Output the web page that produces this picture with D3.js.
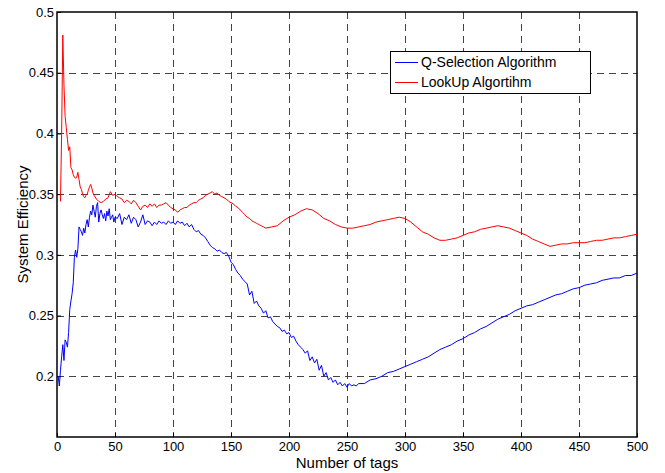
<!DOCTYPE html>
<html>
<head>
<meta charset="utf-8">
<script src="https://cdnjs.cloudflare.com/ajax/libs/d3/7.8.5/d3.min.js"></script>
<style>
  body { margin: 0; background: #fff; }
  text { font-family: Arial, "Liberation Sans", sans-serif; }
</style>
</head>
<body>
<div id="chart"></div>
<script>
// tick values
var xTicks = [0, 50, 100, 150, 200, 250, 300, 350, 400, 450, 500];
var yTicks = [0.2, 0.25, 0.3, 0.35, 0.4, 0.45, 0.5];

// Q-Selection Algorithm (blue)
var qTags = [1,2,3,4,5,6,7,8,9,10,11,12,13,14,15,16,17,18,19,20,21,22,23,24,25,26,27,28,29,30,
  31,32,33,34,35,36,37,38,39,40,41,42,43,44,45,46,47,48,49,50,
  52,54,56,58,60,62,64,66,68,70,72,74,76,78,80,82,84,86,88,90,92,94,96,98,100,
  102,104,106,108,110,112,114,116,118,120,122,124,126,128,130,132,134,136,138,140,
  142,144,146,148,150,152,154,156,158,160,162,164,166,168,170,172,174,176,178,180,
  182,184,186,188,190,192,194,196,198,200,202,204,206,208,210,212,214,216,218,220,
  222,224,226,228,230,232,234,236,238,240,242,244,246,248,250,252,254,256,258,260,
  265,270,275,280,285,290,295,300,305,310,315,320,325,330,335,340,345,350,355,360,
  365,370,375,380,385,390,395,400,405,410,415,420,425,430,435,440,445,450,455,460,
  465,470,475,480,485,490,495,500];
var qEff = [0.200,0.192,0.205,0.216,0.226,0.213,0.230,0.228,0.224,0.236,0.255,0.262,0.268,0.277,0.298,
  0.304,0.298,0.305,0.323,0.321,0.319,0.316,0.322,0.318,0.325,0.329,0.323,0.331,0.336,0.333,
  0.341,0.336,0.331,0.340,0.343,0.327,0.334,0.337,0.333,0.330,0.334,0.328,0.336,0.332,0.338,
  0.329,0.331,0.333,0.327,0.331,
  0.330,0.334,0.325,0.331,0.329,0.333,0.326,0.331,0.329,0.323,0.327,0.333,0.325,0.328,0.327,
  0.324,0.327,0.325,0.328,0.326,0.327,0.325,0.328,0.326,0.327,
  0.325,0.328,0.326,0.327,0.324,0.326,0.323,0.325,0.321,0.319,0.320,0.317,0.316,0.314,0.311,
  0.308,0.306,0.305,0.303,0.304,
  0.302,0.301,0.302,0.299,0.294,0.292,0.288,0.285,0.283,0.280,0.278,0.276,0.267,0.270,0.260,
  0.262,0.258,0.256,0.252,0.254,
  0.248,0.249,0.245,0.243,0.241,0.240,0.237,0.238,0.235,0.236,0.232,0.233,0.229,0.226,0.224,
  0.222,0.219,0.221,0.213,0.216,
  0.211,0.214,0.205,0.209,0.200,0.203,0.197,0.199,0.195,0.197,0.193,0.195,0.192,0.194,0.191,
  0.194,0.192,0.193,0.192,0.194,
  0.194,0.197,0.198,0.200,0.203,0.204,0.206,0.208,0.210,0.212,0.214,0.216,0.219,0.222,0.224,
  0.226,0.229,0.231,0.234,0.236,
  0.239,0.241,0.244,0.247,0.249,0.251,0.254,0.256,0.258,0.259,0.261,0.263,0.265,0.267,0.268,
  0.270,0.272,0.273,0.275,0.276,
  0.277,0.279,0.280,0.281,0.281,0.283,0.283,0.285];

// LookUp Algortihm (red)
var lTags = [3,4,5,6,7,8,9,10,11,12,13,14,15,16,17,18,19,20,21,22,23,24,25,26,27,28,29,30,31,32,
  34,36,38,40,42,44,46,48,50,52,54,56,58,60,62,64,66,68,70,72,74,76,78,80,82,84,86,88,90,
  92,94,96,98,100,102,104,106,108,110,112,114,116,118,120,122,124,126,128,130,132,134,136,138,140,
  142,144,146,148,150,152,154,156,158,160,162,164,166,168,170,172,174,176,178,180,
  185,190,195,200,205,210,215,220,225,230,235,240,245,250,255,260,265,270,275,280,
  285,290,295,300,305,310,315,320,325,330,335,340,345,350,355,360,365,370,375,380,
  385,390,395,400,405,410,415,420,425,430,435,440,445,450,455,460,465,470,475,480,
  485,490,495,500];
var lEff = [0.344,0.400,0.481,0.440,0.414,0.405,0.395,0.386,0.389,0.372,0.370,0.366,0.364,0.363,0.364,
  0.368,0.362,0.356,0.354,0.350,0.348,0.347,0.349,0.350,0.353,0.356,0.358,0.355,0.351,0.349,
  0.346,0.344,0.343,0.344,0.346,0.347,0.352,0.349,0.350,0.348,0.347,0.346,0.343,0.345,0.344,
  0.342,0.345,0.343,0.340,0.337,0.340,0.341,0.339,0.342,0.340,0.342,0.339,0.341,0.341,
  0.342,0.343,0.341,0.339,0.338,0.337,0.335,0.337,0.338,0.339,0.339,0.341,0.342,0.343,0.343,
  0.345,0.346,0.347,0.349,0.350,0.351,0.352,0.350,0.351,0.349,
  0.348,0.347,0.346,0.344,0.343,0.342,0.340,0.339,0.337,0.335,0.333,0.331,0.330,0.328,0.327,
  0.326,0.325,0.324,0.323,0.322,
  0.323,0.324,0.328,0.331,0.333,0.336,0.338,0.337,0.334,0.330,0.328,0.325,0.323,0.322,0.322,
  0.323,0.324,0.325,0.327,0.328,
  0.329,0.330,0.331,0.330,0.327,0.323,0.319,0.317,0.314,0.312,0.312,0.313,0.314,0.316,0.318,
  0.319,0.321,0.322,0.323,0.324,
  0.323,0.322,0.320,0.318,0.316,0.313,0.311,0.309,0.307,0.308,0.309,0.309,0.310,0.310,0.310,
  0.311,0.312,0.312,0.313,0.314,
  0.314,0.315,0.316,0.317];

var seriesNames = ["Q-Selection Algorithm", "LookUp Algortihm"];
var seriesColors = ["#0000ff", "#ff0000"];

var W = 665, H = 473;
var margin = {left: 57, top: 12, right: 28, bottom: 36};
var width = W - margin.left - margin.right;
var height = H - margin.top - margin.bottom;

var svg = d3.select("#chart")
  .append("svg")
    .attr("width", W)
    .attr("height", H)
  .append("g")
    .attr("transform", "translate(" + margin.left + "," + margin.top + ")");

var x = d3.scaleLinear().domain([0, 500]).range([0, width]);
var y = d3.scaleLinear().domain([0.15, 0.5]).range([height, 0]);

// grid
svg.append("g")
  .selectAll("line")
  .data(xTicks.slice(1, -1))
  .enter().append("line")
    .attr("x1", function(d) { return Math.round(x(d)) + 0.5; })
    .attr("x2", function(d) { return Math.round(x(d)) + 0.5; })
    .attr("y1", 0)
    .attr("y2", height)
    .attr("stroke", "#444")
    .attr("stroke-dasharray", "7,5");

svg.append("g")
  .selectAll("line")
  .data(yTicks.slice(0, -1))
  .enter().append("line")
    .attr("y1", function(d) { return Math.round(y(d)) + 0.5; })
    .attr("y2", function(d) { return Math.round(y(d)) + 0.5; })
    .attr("x1", 0)
    .attr("x2", width)
    .attr("stroke", "#444")
    .attr("stroke-dasharray", "7,5");

// axes
var xAx = svg.append("g")
  .attr("transform", "translate(0," + height + ")")
  .call(d3.axisBottom(x).tickValues(xTicks).tickSizeInner(-4).tickSizeOuter(0).tickPadding(5));
var yAx = svg.append("g")
  .call(d3.axisLeft(y).tickValues(yTicks).tickFormat(d3.format("")).tickSizeInner(-4).tickSizeOuter(0).tickPadding(3));

[xAx, yAx].forEach(function(a) {
  a.select(".domain").remove();
  a.selectAll("line").attr("stroke", "#000");
  a.selectAll("text").attr("font-size", "13px").attr("fill", "#000")
    .style("font-family", "Arial, 'Liberation Sans', sans-serif");
});

// box
svg.append("rect")
  .attr("x", 0).attr("y", 0)
  .attr("width", width).attr("height", height)
  .attr("fill", "none")
  .attr("stroke", "#000")
  .attr("stroke-width", 1.5);

// lines
var line = d3.line()
  .x(function(d) { return x(d[0]); })
  .y(function(d) { return y(d[1]); });

svg.append("path")
  .datum(qTags.map(function(t, i) { return [t, qEff[i]]; }))
  .attr("fill", "none")
  .attr("stroke", seriesColors[0])
  .attr("stroke-width", 1)
  .attr("d", line);

svg.append("path")
  .datum(lTags.map(function(t, i) { return [t, lEff[i]]; }))
  .attr("fill", "none")
  .attr("stroke", seriesColors[1])
  .attr("stroke-width", 1)
  .attr("d", line);

// axis labels
svg.append("text")
  .attr("x", width / 2)
  .attr("y", height + 31)
  .attr("text-anchor", "middle")
  .attr("font-size", "15px")
  .text("Number of tags");

svg.append("text")
  .attr("transform", "translate(-29," + (height / 2) + ") rotate(-90)")
  .attr("text-anchor", "middle")
  .attr("font-size", "15px")
  .text("System Efficiency");

// legend
var leg = svg.append("g")
  .attr("transform", "translate(" + (390 - margin.left) + "," + (51 - margin.top) + ")");
leg.append("rect")
  .attr("x", 0.5).attr("y", 0.5)
  .attr("width", 200).attr("height", 42)
  .attr("fill", "#fff")
  .attr("stroke", "#000");
leg.selectAll("g.item")
  .data(seriesNames)
  .enter().append("g")
    .attr("class", "item")
    .attr("transform", function(d, i) { return "translate(0," + (11 + i * 20) + ")"; })
    .each(function(d, i) {
      var g = d3.select(this);
      g.append("line")
        .attr("x1", 5).attr("x2", 28)
        .attr("y1", 0.5).attr("y2", 0.5)
        .attr("stroke", seriesColors[i]);
      g.append("text")
        .attr("x", 31)
        .attr("y", 5)
        .attr("font-size", "14px")
        .text(d);
    });
</script>
</body>
</html>
